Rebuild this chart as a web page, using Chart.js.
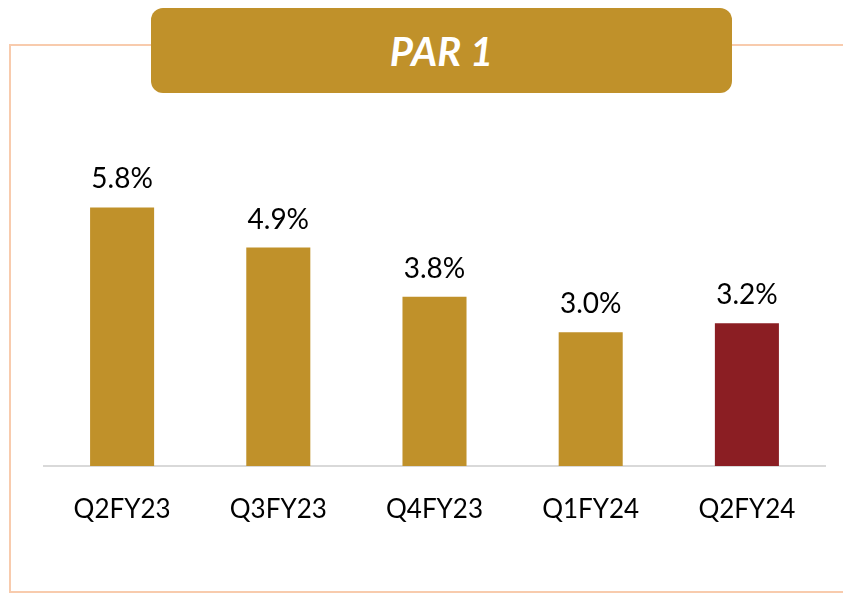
<!DOCTYPE html>
<html>
<head>
<meta charset="utf-8">
<script src="https://cdn.jsdelivr.net/npm/chart.js@4.4.1/dist/chart.umd.min.js"></script>
<style>
  body { margin: 0; background: #fff; }
  #wrap { position: relative; width: 843px; height: 593px; overflow: hidden; }
  #frame { position: absolute; left: 9px; top: 44px; width: 900px; height: 549px;
           border: 2px solid #F8CBAD; box-sizing: border-box; }
  #title { position: absolute; left: 151px; top: 8px; width: 581px; height: 85px;
           background: #C0912A; border-radius: 12px; color: #fff;
           font: italic bold 40px Lato, "Open Sans", sans-serif;
           display: flex; align-items: center; justify-content: center; }
  #mycanvas { position: absolute; left: 0; top: 0; }
</style>
</head>
<body>
<div id="wrap">
  <div id="frame"></div>
  <div id="title">PAR 1</div>
  <canvas id="mycanvas" width="843" height="593"></canvas>
</div>
<script>
var quarters = ["Q2FY23", "Q3FY23", "Q4FY23", "Q1FY24", "Q2FY24"];
var par1 = [5.8, 4.9, 3.8, 3.0, 3.2];
var barColors = ["#C0912A", "#C0912A", "#C0912A", "#C0912A", "#8B1E23"];

// labels above each bar
var valueLabels = {
  id: "valueLabels",
  afterDatasetsDraw: function(chart) {
    var ctx = chart.ctx;
    var meta = chart.getDatasetMeta(0);
    ctx.save();
    ctx.font = "28px Lato, 'Open Sans', sans-serif";
    ctx.fillStyle = "#000";
    ctx.textAlign = "center";
    ctx.textBaseline = "alphabetic";
    meta.data.forEach(function(bar, i) {
      ctx.fillText(par1[i].toFixed(1) + "%", bar.x, bar.y - 19);
    });
    ctx.restore();
  }
};

var ctx = document.getElementById("mycanvas");
var chart = new Chart(ctx, {
  type: "bar",
  data: {
    labels: quarters,
    datasets: [{
      data: par1,
      backgroundColor: barColors,
      barPercentage: 0.41,
      categoryPercentage: 1
    }]
  },
  options: {
    responsive: false,
    animation: false,
    layout: { padding: { left: 44, right: 18, top: 154, bottom: 0 } },
    plugins: { legend: { display: false }, tooltip: { enabled: false } },
    scales: {
      x: {
        grid: { display: false, drawTicks: false },
        border: { display: true, color: "#D9D9D9", width: 2 },
        ticks: { color: "#000", padding: 28, font: { family: "Lato", size: 26 } },
        afterFit: function(axis) { axis.height = 127; }
      },
      y: {
        display: false,
        min: 0,
        max: 7
      }
    }
  },
  plugins: [valueLabels]
});
</script>
</body>
</html>
